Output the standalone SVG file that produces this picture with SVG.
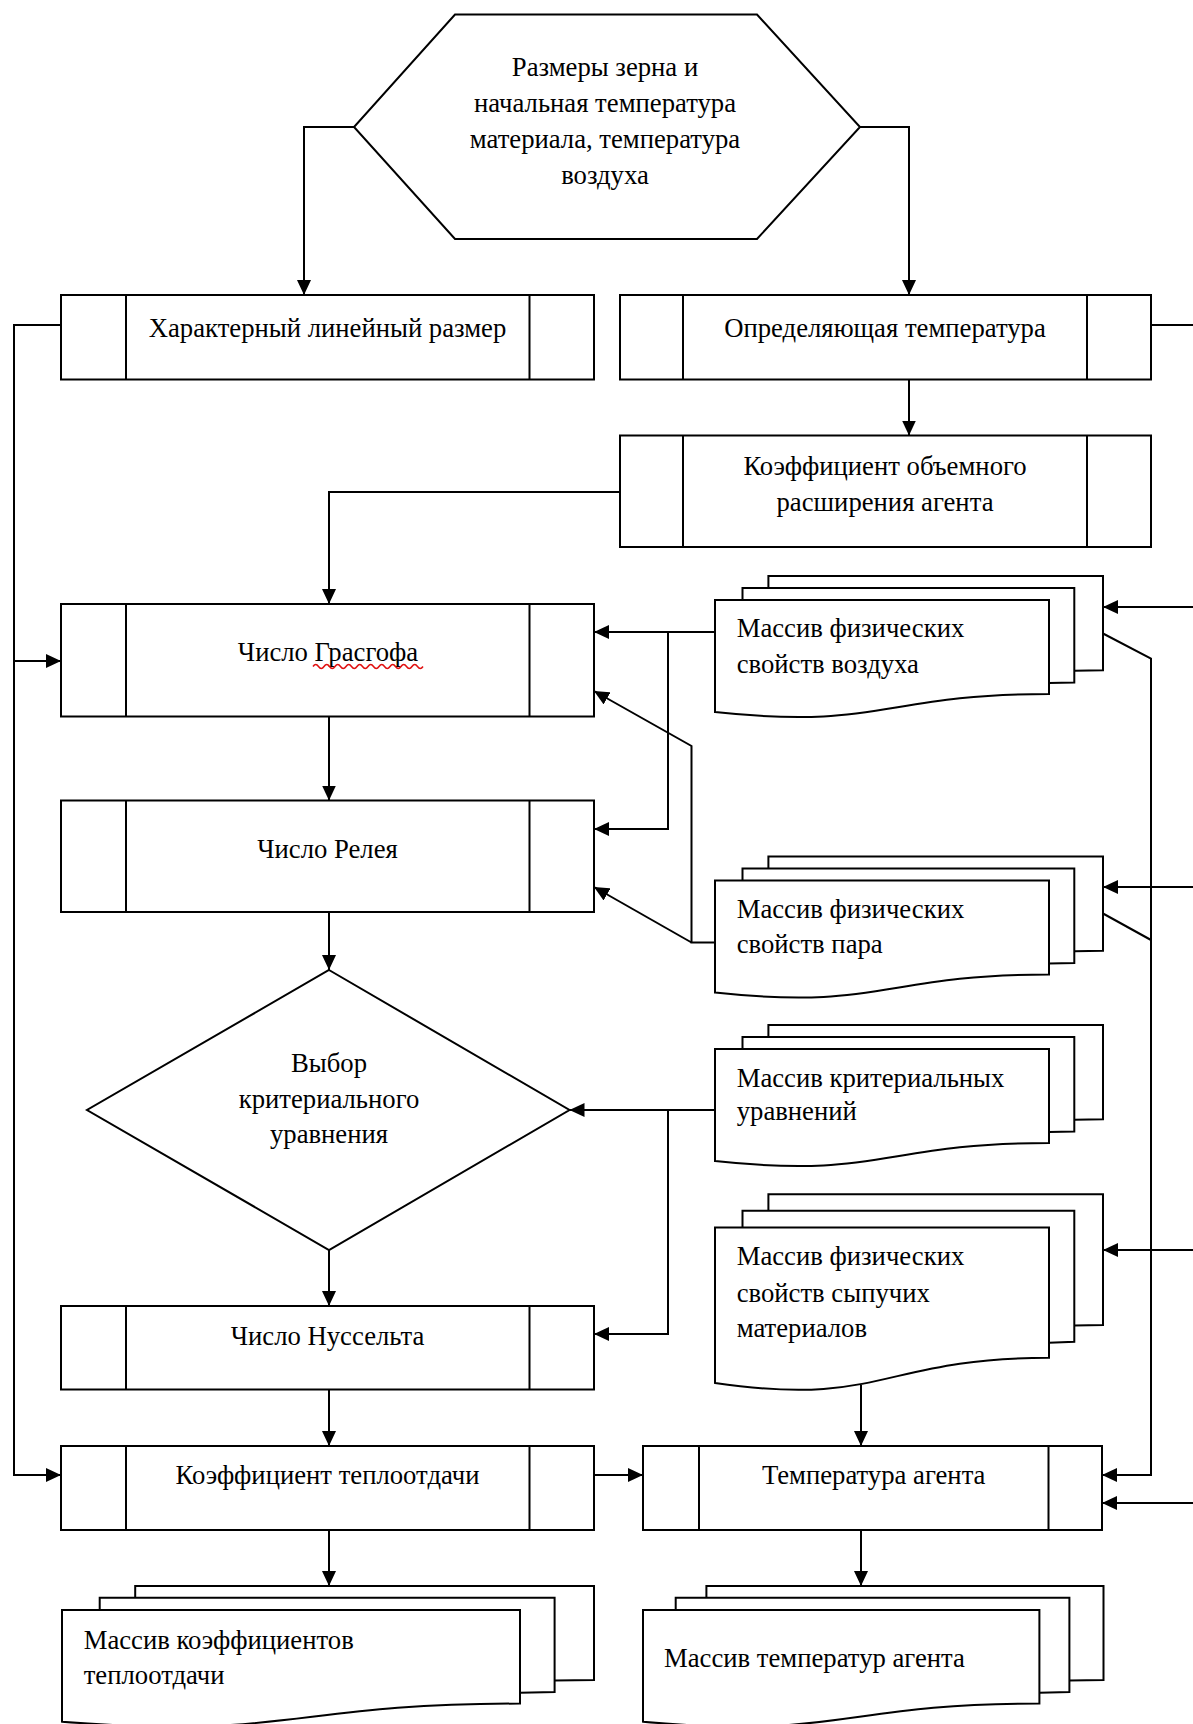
<svg xmlns="http://www.w3.org/2000/svg" width="1193" height="1724" viewBox="0 0 1193 1724">
<style>
.s{fill:#fff;stroke:#000;stroke-width:2;stroke-linejoin:miter}
.l{fill:none;stroke:#000;stroke-width:2}
.c{fill:none;stroke:#000;stroke-width:2;marker-end:url(#ah)}
.t{font-family:"Liberation Serif","Times New Roman",serif;font-size:26.7px;fill:#000}
.m{text-anchor:middle}
</style>
<defs>
<marker id="ah" markerUnits="userSpaceOnUse" viewBox="0 0 15 14" refX="15" refY="7" markerWidth="15" markerHeight="14" orient="auto">
<path d="M0,0 L15,7 L0,14 Z" fill="#000"/>
</marker>
</defs>
<rect width="1193" height="1724" fill="#fff"/>

<g id="node-input">
<polygon class="s" points="455,14.5 757,14.5 860,127 757,239 455,239 354,127"/>
<text class="t m" x="605" y="75.5">Размеры зерна и</text>
<text class="t m" x="605" y="111.5">начальная температура</text>
<text class="t m" x="605" y="147.5">материала, температура</text>
<text class="t m" x="605" y="183.5">воздуха</text>
</g>

<g id="node-size">
<rect class="s" x="61" y="295" width="533" height="84.5"/>
<path class="l" d="M126,295 V379.5 M529.5,295 V379.5"/>
<text class="t m" x="327.5" y="337">Характерный линейный размер</text>
</g>

<g id="node-deftemp">
<rect class="s" x="620" y="295" width="531" height="84.5"/>
<path class="l" d="M683,295 V379.5 M1087,295 V379.5"/>
<text class="t m" x="885" y="337">Определяющая температура</text>
</g>

<g id="node-beta">
<rect class="s" x="620" y="435.5" width="531" height="111.5"/>
<path class="l" d="M683,435.5 V547 M1087,435.5 V547"/>
<text class="t m" x="885" y="475">Коэффициент объемного</text>
<text class="t m" x="885" y="510.5">расширения агента</text>
</g>

<g id="node-grashof">
<rect class="s" x="61" y="604" width="533" height="112.5"/>
<path class="l" d="M126,604 V716.5 M529.5,604 V716.5"/>
<text class="t m" x="328" y="661">Число Грасгофа</text>
<path d="M313,666.5 q2.75,-4 5.5,0 t5.5,0 t5.5,0 t5.5,0 t5.5,0 t5.5,0 t5.5,0 t5.5,0 t5.5,0 t5.5,0 t5.5,0 t5.5,0 t5.5,0 t5.5,0 t5.5,0 t5.5,0 t5.5,0 t5.5,0 t5.5,0 t5.5,0" fill="none" stroke="#e01010" stroke-width="1.5"/>
</g>

<g id="node-rayleigh">
<rect class="s" x="61" y="800.5" width="533" height="111.5"/>
<path class="l" d="M126,800.5 V912 M529.5,800.5 V912"/>
<text class="t m" x="327.5" y="858">Число Релея</text>
</g>

<g id="node-choice">
<polygon class="s" points="329,970 569.5,1110 329,1250 87,1110"/>
<text class="t m" x="329" y="1072">Выбор</text>
<text class="t m" x="329" y="1107.5">критериального</text>
<text class="t m" x="329" y="1143">уравнения</text>
</g>

<g id="node-nusselt">
<rect class="s" x="61" y="1306" width="533" height="83.5"/>
<path class="l" d="M126,1306 V1389.5 M529.5,1306 V1389.5"/>
<text class="t m" x="327.5" y="1345">Число Нуссельта</text>
</g>

<g id="node-alpha">
<rect class="s" x="61" y="1446" width="533" height="84"/>
<path class="l" d="M126,1446 V1530 M529.5,1446 V1530"/>
<text class="t m" x="327.5" y="1484">Коэффициент теплоотдачи</text>
</g>

<g id="node-tagent">
<rect class="s" x="643" y="1446" width="459" height="84"/>
<path class="l" d="M699,1446 V1530 M1048.5,1446 V1530"/>
<text class="t m" x="873.7" y="1484">Температура агента</text>
</g>

<g id="node-air">
<path class="s" d="M768.4,587.9 L768.4,576 L1103,576 L1103,670.2 L1074.3,670.7"/>
<path class="s" d="M742.5,600.1 L742.5,587.9 L1074.3,587.9 L1074.3,682.4 L1049,683"/>
<path class="s" d="M715,600.1 L1049,600.1 L1049,694 C882,694 882,730.1 715,712 Z"/>
<text class="t" x="736.7" y="637.3">Массив физических</text>
<text class="t" x="736.7" y="672.7">свойств воздуха</text>
</g>

<g id="node-steam">
<path class="s" d="M768.4,868.4 L768.4,856.5 L1103,856.5 L1103,950.7 L1074.3,951.2"/>
<path class="s" d="M742.5,880.6 L742.5,868.4 L1074.3,868.4 L1074.3,962.9 L1049,963.5"/>
<path class="s" d="M715,880.6 L1049,880.6 L1049,974.5 C882,974.5 882,1010.6 715,992.5 Z"/>
<text class="t" x="736.7" y="918.3">Массив физических</text>
<text class="t" x="736.7" y="953.3">свойств пара</text>
</g>

<g id="node-criteria">
<path class="s" d="M768.4,1036.9 L768.4,1025 L1103,1025 L1103,1119.2 L1074.3,1119.7"/>
<path class="s" d="M742.5,1049.1 L742.5,1036.9 L1074.3,1036.9 L1074.3,1131.4 L1049,1132"/>
<path class="s" d="M715,1049.1 L1049,1049.1 L1049,1143 C882,1143 882,1179.1 715,1161 Z"/>
<text class="t" x="736.7" y="1087.3">Массив критериальных</text>
<text class="t" x="736.7" y="1120">уравнений</text>
</g>

<g id="node-bulk">
<path class="s" d="M768.4,1210.8 L768.4,1194.3 L1103,1194.3 L1103,1324.9 L1074.3,1325.6"/>
<path class="s" d="M742.5,1227.6 L742.5,1210.8 L1074.3,1210.8 L1074.3,1341.8 L1049,1342.7"/>
<path class="s" d="M715,1227.6 L1049,1227.6 L1049,1357.8 C882,1357.8 882,1407.9 715,1382.9 Z"/>
<text class="t" x="736.7" y="1265">Массив физических</text>
<text class="t" x="736.7" y="1301.7">свойств сыпучих</text>
<text class="t" x="736.7" y="1336.7">материалов</text>
</g>

<g id="node-alpha-array">
<path class="s" d="M135.2,1597.8 L135.2,1586 L594,1586 L594,1679.9 L554.6,1680.4"/>
<path class="s" d="M99.7,1610 L99.7,1597.8 L554.6,1597.8 L554.6,1692.1 L520,1692.7"/>
<path class="s" d="M62,1610 L520,1610 L520,1703.6 C291,1703.6 291,1739.7 62,1721.7 Z"/>
<text class="t" x="83.7" y="1649.3">Массив коэффициентов</text>
<text class="t" x="83.7" y="1684">теплоотдачи</text>
</g>

<g id="node-tagent-array">
<path class="s" d="M706.4,1597.8 L706.4,1586 L1103.5,1586 L1103.5,1679.9 L1069.4,1680.4"/>
<path class="s" d="M675.7,1610 L675.7,1597.8 L1069.4,1597.8 L1069.4,1692.1 L1039.4,1692.7"/>
<path class="s" d="M643,1610 L1039.4,1610 L1039.4,1703.6 C841.2,1703.6 841.2,1739.7 643,1721.7 Z"/>
<text class="t" x="664" y="1667.3">Массив температур агента</text>
</g>

<g id="connectors">
<path class="c" d="M354,127 H304 V295"/>
<path class="c" d="M860,127 H909 V295"/>
<path class="c" d="M909,379.5 V435.5"/>
<path class="c" d="M61,325 H14 V1475 H61"/>
<path class="c" d="M14,661 H61"/>
<path class="l" d="M1151,325 H1193"/>
<path class="c" d="M620,492 H329 V604"/>
<path class="c" d="M329,716.5 V800.5"/>
<path class="c" d="M329,912 V970"/>
<path class="c" d="M329,1250 V1306"/>
<path class="c" d="M329,1389.5 V1446"/>
<path class="c" d="M329,1530 V1586"/>
<path class="c" d="M594,1475 H643"/>
<path class="c" d="M861,1530 V1586"/>
<path class="c" d="M715,632 H594"/>
<path class="c" d="M668,632 V829 H594"/>
<path class="c" d="M715,942.5 H691.5 V746 L594,691"/>
<path class="c" d="M691.5,942.5 L594,887"/>
<path class="c" d="M715,1110 H569.5"/>
<path class="c" d="M668,1110 V1334 H594"/>
<path class="c" d="M861,1385 V1446"/>
<path class="c" d="M1193,607 H1103"/>
<path class="c" d="M1193,887 H1103"/>
<path class="c" d="M1193,1250 H1103"/>
<path class="c" d="M1193,1503 H1102"/>
<path class="c" d="M1103,633.5 L1151,658.5 V1475 H1102"/>
<path class="l" d="M1103,913.5 L1151,940"/>
</g>
</svg>
